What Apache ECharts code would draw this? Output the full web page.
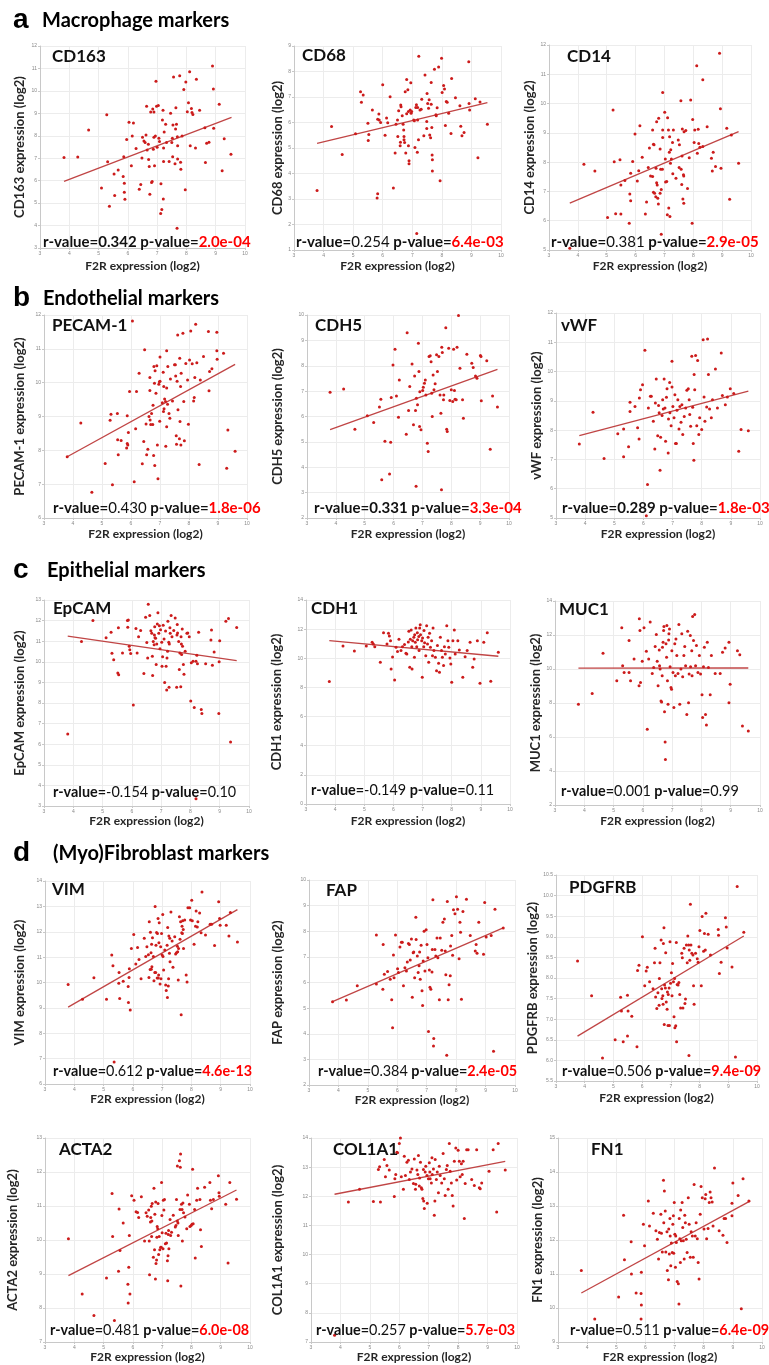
<!DOCTYPE html>
<html><head><meta charset="utf-8">
<script src="https://cdn.jsdelivr.net/npm/echarts@6/dist/echarts.min.js"></script>
<style>html,body{margin:0;padding:0;background:#fff}#c{width:769px;height:1365px}</style>
</head><body><div id="c"></div>
<script>
// ---------- data (F2R expression x, marker expression y) ----------
const F2R_RANGE = [3, 10];
const SECTIONS = [['a','Macrophage markers'],['b','Endothelial markers'],['c','Epithelial markers'],['d','(Myo)Fibroblast markers']];
const GENES = ['CD163','CD68','CD14','PECAM-1','CDH5','vWF','EpCAM','CDH1','MUC1','VIM','FAP','PDGFRB','ACTA2','COL1A1','FN1'];
const R_VALUES = ['0.342','0.254','0.381','0.430','0.331','0.289','-0.154','-0.149','0.001','0.612','0.384','0.506','0.481','0.257','0.511'];
const P_VALUES = ['2.0e-04','6.4e-03','2.9e-05','1.8e-06','3.3e-04','1.8e-03','0.10','0.11','0.99','4.6e-13','2.4e-05','9.4e-09','6.0e-08','5.7e-03','6.4e-09'];
const Y_MIN = [3,1,5,6,2,5,3,0,2,6,2,5.5,7,7,9];
const Y_MAX = [12,9,12,12,10,12,13,14,14,14,10,10.5,13,14,15];
const Y_STEP = [1,1,1,1,1,1,1,2,2,1,1,0.5,1,1,1];

const CD163 = [[3.82,7.03],[4.29,7.06],[4.66,8.26],[5.10,5.67],[5.28,8.94],[5.31,6.84],[5.37,4.86],[5.53,6.30],[5.55,5.34],[5.67,6.47],[5.84,6.19],[5.86,7.07],[5.88,5.88],[5.88,5.48],[5.90,5.17],[5.96,7.83],[6.04,8.60],[6.12,6.67],[6.15,7.99],[6.19,8.57],[6.28,7.43],[6.39,5.62],[6.44,5.83],[6.48,7.01],[6.50,7.93],[6.55,7.77],[6.59,7.70],[6.62,8.04],[6.64,9.32],[6.66,7.37],[6.70,7.62],[6.71,6.94],[6.73,6.63],[6.75,5.40],[6.78,9.06],[6.81,5.92],[6.83,5.96],[6.85,9.19],[6.87,7.40],[6.89,7.93],[6.89,9.06],[6.91,6.66],[6.94,7.99],[6.96,10.43],[6.98,9.32],[7.00,7.49],[7.04,9.35],[7.06,7.89],[7.08,7.74],[7.12,4.54],[7.13,5.86],[7.16,4.72],[7.18,8.70],[7.20,9.14],[7.21,5.18],[7.22,7.46],[7.22,6.85],[7.24,8.17],[7.29,8.51],[7.32,7.70],[7.41,6.85],[7.46,9.00],[7.50,7.70],[7.52,7.89],[7.53,7.07],[7.54,8.48],[7.56,10.62],[7.61,6.75],[7.63,8.30],[7.64,9.25],[7.66,8.51],[7.68,3.88],[7.69,7.96],[7.70,7.56],[7.70,6.96],[7.77,10.67],[7.80,6.82],[7.81,6.51],[7.85,7.99],[7.91,10.06],[7.96,5.59],[7.98,10.40],[8.03,9.07],[8.07,9.47],[8.11,10.85],[8.13,7.56],[8.17,9.22],[8.19,9.04],[8.22,8.95],[8.31,7.46],[8.34,10.52],[8.45,9.14],[8.63,8.36],[8.65,6.81],[8.69,7.67],[8.77,7.71],[8.89,11.11],[8.92,10.08],[8.93,8.33],[9.12,9.40],[9.22,6.44],[9.29,7.87],[9.52,7.18]];
const CD68 = [[3.78,3.33],[4.27,5.84],[4.63,4.75],[5.08,5.56],[5.25,7.21],[5.28,6.79],[5.34,7.08],[5.51,5.29],[5.53,5.53],[5.50,5.97],[5.65,6.49],[5.81,3.04],[5.83,3.21],[5.83,6.13],[5.87,6.33],[5.88,6.10],[5.93,6.00],[6.00,7.48],[6.08,5.50],[6.13,6.18],[6.17,5.99],[6.25,7.01],[6.36,3.43],[6.42,4.80],[6.45,5.93],[6.50,6.10],[6.51,5.45],[6.54,6.46],[6.59,5.09],[6.60,5.23],[6.61,6.69],[6.62,6.62],[6.66,6.26],[6.69,5.93],[6.71,5.71],[6.72,5.45],[6.72,5.32],[6.74,5.22],[6.76,7.21],[6.78,4.80],[6.81,7.69],[6.81,6.34],[6.85,7.28],[6.87,6.43],[6.87,5.09],[6.89,4.50],[6.89,4.38],[6.93,6.49],[6.95,7.56],[6.96,6.36],[6.98,6.43],[7.05,6.10],[7.07,6.07],[7.09,5.02],[7.12,6.59],[7.14,6.70],[7.15,1.65],[7.17,4.83],[7.18,6.10],[7.18,6.59],[7.21,5.32],[7.22,8.60],[7.26,6.49],[7.30,6.52],[7.32,6.91],[7.39,5.48],[7.43,7.86],[7.49,6.04],[7.49,5.76],[7.50,7.14],[7.52,6.75],[7.55,6.56],[7.57,6.89],[7.59,5.51],[7.62,5.40],[7.64,7.57],[7.64,6.72],[7.66,5.80],[7.67,4.73],[7.68,4.54],[7.68,4.10],[7.75,8.09],[7.80,6.30],[7.81,6.26],[7.84,6.58],[7.89,8.18],[7.94,3.72],[7.99,8.52],[8.01,7.18],[8.06,7.45],[8.09,7.31],[8.12,5.88],[8.15,6.82],[8.18,6.79],[8.23,6.36],[8.31,5.57],[8.33,7.73],[8.46,6.97],[8.61,6.66],[8.64,5.85],[8.68,5.48],[8.75,5.61],[8.91,8.38],[8.92,6.75],[8.94,6.49],[9.13,6.93],[9.22,4.62],[9.29,6.80],[9.54,5.93]];
const CD14 = [[3.72,5.06],[4.21,7.93],[4.59,7.70],[5.03,6.11],[5.22,9.78],[5.26,8.01],[5.31,6.24],[5.46,8.08],[5.49,7.22],[5.49,6.23],[5.63,7.37],[5.78,5.91],[5.80,6.91],[5.83,6.68],[5.83,7.62],[5.90,8.02],[5.98,8.96],[6.06,7.36],[6.11,7.71],[6.15,9.24],[6.23,8.17],[6.34,6.23],[6.38,6.64],[6.44,7.82],[6.48,8.48],[6.52,7.53],[6.59,7.51],[6.59,9.10],[6.62,8.61],[6.62,6.97],[6.64,8.59],[6.66,6.94],[6.70,6.82],[6.71,7.79],[6.73,9.38],[6.73,7.30],[6.75,7.22],[6.77,6.77],[6.79,6.57],[6.80,9.50],[6.85,8.45],[6.85,6.94],[6.87,7.76],[6.89,7.07],[6.89,5.54],[6.93,7.76],[6.94,10.38],[6.94,8.84],[6.94,9.10],[7.01,9.70],[7.03,8.11],[7.04,7.32],[7.08,7.34],[7.10,6.20],[7.11,9.52],[7.14,9.10],[7.15,6.43],[7.17,8.34],[7.18,8.87],[7.19,6.14],[7.21,7.96],[7.22,8.42],[7.24,8.11],[7.28,8.67],[7.29,7.60],[7.31,9.10],[7.40,7.45],[7.48,8.76],[7.51,7.82],[7.52,8.59],[7.57,10.10],[7.58,7.76],[7.60,7.24],[7.61,8.21],[7.62,9.13],[7.64,6.74],[7.66,7.57],[7.67,7.53],[7.67,6.60],[7.68,9.04],[7.74,9.08],[7.80,7.10],[7.86,8.15],[7.91,10.12],[7.96,5.91],[7.98,9.46],[8.03,8.67],[8.05,9.10],[8.12,11.29],[8.14,8.30],[8.17,9.12],[8.19,8.64],[8.23,8.51],[8.33,10.81],[8.33,8.53],[8.48,9.21],[8.63,8.13],[8.66,7.70],[8.69,8.34],[8.77,7.85],[8.91,11.72],[8.94,9.82],[8.96,7.79],[9.16,9.16],[9.26,6.73],[9.32,8.93],[9.57,7.96]];
const PECAM1 = [[3.80,7.81],[4.27,8.81],[4.65,6.76],[5.11,7.61],[5.28,8.89],[5.31,9.07],[5.36,6.98],[5.53,9.09],[5.54,8.31],[5.56,7.87],[5.66,8.29],[5.85,8.07],[5.87,8.20],[5.87,9.02],[5.91,8.53],[5.89,8.16],[5.95,9.74],[6.05,11.82],[6.11,7.07],[6.16,8.64],[6.19,9.74],[6.28,10.28],[6.39,7.60],[6.44,8.26],[6.47,10.97],[6.52,8.78],[6.54,7.87],[6.58,8.03],[6.62,9.00],[6.65,10.15],[6.65,9.77],[6.66,8.90],[6.68,8.76],[6.71,9.09],[6.75,8.76],[6.76,9.33],[6.79,10.48],[6.78,7.85],[6.81,9.98],[6.82,7.55],[6.83,10.35],[6.86,9.69],[6.89,10.50],[6.91,8.16],[6.93,7.16],[6.96,9.95],[6.98,10.03],[6.99,8.86],[7.00,10.76],[7.00,10.04],[7.08,9.41],[7.11,10.31],[7.12,9.15],[7.13,9.89],[7.14,9.23],[7.16,9.52],[7.19,9.44],[7.20,8.12],[7.23,9.84],[7.23,10.94],[7.23,8.70],[7.26,9.36],[7.27,10.48],[7.31,9.09],[7.34,8.95],[7.36,10.11],[7.43,9.46],[7.50,10.53],[7.53,10.53],[7.54,10.20],[7.56,8.43],[7.57,8.18],[7.59,10.04],[7.61,11.41],[7.62,9.20],[7.67,8.34],[7.68,10.72],[7.69,8.85],[7.71,9.89],[7.72,8.16],[7.73,10.28],[7.79,11.46],[7.82,9.44],[7.84,8.28],[7.89,10.57],[7.95,10.08],[7.98,8.77],[8.02,10.67],[8.06,11.53],[8.11,10.56],[8.16,9.46],[8.18,9.56],[8.20,10.15],[8.23,11.73],[8.27,10.59],[8.35,7.58],[8.39,10.08],[8.50,10.77],[8.67,11.51],[8.69,9.76],[8.71,10.33],[8.79,10.41],[8.96,11.49],[8.96,10.94],[8.97,10.69],[9.19,10.87],[9.30,7.47],[9.34,8.60],[9.59,7.97]];
const CDH5 = [[3.80,6.96],[4.27,7.08],[4.66,5.50],[5.09,6.03],[5.31,5.76],[5.51,6.37],[5.56,6.68],[5.59,3.51],[5.70,5.02],[5.86,3.73],[5.90,4.99],[5.92,6.75],[5.98,8.03],[6.05,8.65],[6.10,6.81],[6.17,5.97],[6.20,7.44],[6.44,5.30],[6.47,9.30],[6.52,6.24],[6.56,7.18],[6.64,8.07],[6.69,5.67],[6.73,7.60],[6.76,6.24],[6.78,3.25],[6.79,6.72],[6.83,6.46],[6.86,8.89],[6.88,7.77],[6.90,5.61],[6.91,6.98],[6.95,5.48],[7.01,7.02],[7.03,7.15],[7.07,7.31],[7.10,7.44],[7.12,6.85],[7.17,4.95],[7.20,4.62],[7.23,8.36],[7.27,8.39],[7.30,8.16],[7.32,6.92],[7.34,6.00],[7.37,7.64],[7.40,7.05],[7.44,7.29],[7.49,8.43],[7.52,7.77],[7.57,8.36],[7.61,6.85],[7.64,6.13],[7.66,3.11],[7.67,8.73],[7.69,8.52],[7.73,6.66],[7.74,6.85],[7.81,9.50],[7.84,5.50],[7.86,5.41],[7.91,8.69],[7.95,6.63],[8.00,7.05],[8.05,6.59],[8.08,8.65],[8.11,7.02],[8.13,6.68],[8.17,6.66],[8.20,8.73],[8.25,9.98],[8.30,7.90],[8.39,6.66],[8.42,5.93],[8.54,8.45],[8.71,8.10],[8.76,7.93],[8.84,7.60],[8.89,7.51],[9.01,8.40],[9.03,8.36],[9.04,6.62],[9.23,8.20],[9.35,4.71],[9.43,6.81],[9.60,6.37]];
const VWF = [[3.80,7.53],[4.27,8.61],[4.65,7.03],[5.12,7.88],[5.32,7.09],[5.32,8.04],[5.49,7.43],[5.54,8.95],[5.54,8.64],[5.71,8.81],[5.80,8.08],[5.85,7.70],[5.86,9.10],[5.90,9.38],[5.97,9.55],[6.05,10.73],[6.14,6.14],[6.17,8.76],[6.24,9.16],[6.27,9.16],[6.34,8.30],[6.39,7.36],[6.41,8.93],[6.44,9.75],[6.49,7.81],[6.52,8.84],[6.54,8.59],[6.57,6.63],[6.59,7.76],[6.64,8.50],[6.66,9.04],[6.68,8.72],[6.71,9.75],[6.74,8.76],[6.76,7.62],[6.79,9.12],[6.81,9.41],[6.85,7.22],[6.86,8.38],[6.90,9.63],[6.91,8.59],[6.95,8.15],[6.98,10.35],[6.98,9.47],[7.01,8.81],[7.05,8.42],[7.08,9.21],[7.10,7.54],[7.13,7.54],[7.15,8.68],[7.18,9.04],[7.22,8.04],[7.25,8.81],[7.29,8.27],[7.32,8.87],[7.35,7.85],[7.40,8.47],[7.45,8.76],[7.49,9.36],[7.54,9.41],[7.57,9.04],[7.59,8.53],[7.62,8.13],[7.66,10.52],[7.69,8.78],[7.71,7.54],[7.73,6.97],[7.74,9.90],[7.76,9.38],[7.79,10.55],[7.83,8.15],[7.86,10.38],[7.90,7.85],[7.93,8.42],[8.00,8.02],[8.05,11.09],[8.08,9.13],[8.11,8.30],[8.17,8.79],[8.20,11.11],[8.23,9.90],[8.27,8.72],[8.33,8.42],[8.37,9.04],[8.47,10.09],[8.54,8.76],[8.67,10.63],[8.71,9.18],[8.81,8.87],[8.88,9.13],[8.98,9.41],[9.10,9.25],[9.27,7.28],[9.35,8.02],[9.60,7.98],[6.10,5.08]];
const EPCAM = [[3.81,6.50],[4.28,10.98],[4.67,12.00],[5.12,11.17],[5.29,11.43],[5.32,10.41],[5.38,10.10],[5.52,9.46],[5.55,9.37],[5.54,11.65],[5.68,10.43],[5.85,12.00],[5.88,12.03],[5.86,11.68],[5.91,10.75],[5.93,10.59],[5.96,10.40],[6.05,7.90],[6.14,11.62],[6.18,10.43],[6.23,11.21],[6.30,11.52],[6.41,9.43],[6.47,12.16],[6.51,10.94],[6.54,10.19],[6.56,12.79],[6.61,12.25],[6.65,11.51],[6.68,11.38],[6.70,10.27],[6.71,9.33],[6.73,10.98],[6.76,10.83],[6.77,11.30],[6.78,11.70],[6.79,11.17],[6.81,11.14],[6.83,9.87],[6.85,10.86],[6.87,11.83],[6.89,12.38],[6.92,11.38],[6.94,11.75],[6.96,10.63],[6.98,11.56],[7.02,10.95],[7.03,9.78],[7.05,10.25],[7.07,11.78],[7.10,11.11],[7.12,9.00],[7.15,11.49],[7.17,9.79],[7.19,8.63],[7.20,10.19],[7.22,10.51],[7.23,11.97],[7.26,10.95],[7.27,8.76],[7.28,10.86],[7.30,11.65],[7.31,11.38],[7.34,12.25],[7.37,11.22],[7.43,11.52],[7.48,12.13],[7.53,8.76],[7.54,11.30],[7.55,11.81],[7.56,11.40],[7.60,10.98],[7.62,9.63],[7.64,10.43],[7.67,8.79],[7.68,11.22],[7.69,10.86],[7.70,10.35],[7.72,11.59],[7.73,10.75],[7.76,9.87],[7.78,9.40],[7.82,10.51],[7.88,11.38],[7.91,11.40],[7.96,11.22],[8.01,8.10],[8.03,9.95],[8.09,10.03],[8.13,7.78],[8.19,10.03],[8.22,10.32],[8.24,9.90],[8.28,11.43],[8.37,7.68],[8.39,7.49],[8.52,9.90],[8.70,11.06],[8.72,11.54],[8.75,9.83],[8.81,10.48],[8.97,7.49],[8.98,10.00],[9.00,11.02],[9.21,11.97],[9.30,12.10],[9.37,6.11],[9.58,11.67],[8.19,3.35]];
const CDH1 = [[3.80,8.40],[4.27,10.85],[4.66,10.50],[5.07,10.85],[5.27,11.10],[5.31,10.98],[5.36,10.80],[5.55,9.73],[5.66,11.76],[5.78,10.98],[5.83,11.71],[5.86,11.53],[5.90,11.21],[5.92,9.27],[5.97,10.09],[6.04,8.51],[6.09,10.75],[6.14,10.46],[6.19,11.30],[6.26,10.53],[6.31,10.80],[6.38,10.94],[6.43,10.34],[6.46,10.30],[6.51,11.12],[6.53,11.85],[6.56,9.38],[6.58,11.30],[6.61,11.94],[6.63,10.80],[6.64,9.27],[6.66,11.21],[6.70,11.44],[6.72,10.07],[6.73,11.62],[6.75,11.10],[6.77,12.08],[6.80,10.80],[6.82,11.76],[6.83,11.28],[6.87,11.49],[6.88,10.53],[6.90,12.08],[6.92,12.31],[6.93,11.62],[6.97,11.21],[6.99,8.70],[7.00,11.39],[7.04,10.80],[7.05,11.90],[7.07,11.07],[7.11,10.18],[7.14,12.24],[7.17,10.98],[7.19,11.44],[7.21,9.73],[7.24,11.71],[7.27,10.75],[7.31,11.21],[7.34,10.18],[7.36,12.08],[7.39,10.53],[7.44,10.07],[7.48,9.15],[7.51,10.87],[7.55,9.66],[7.58,9.04],[7.61,11.44],[7.65,10.53],[7.68,10.07],[7.72,9.50],[7.75,10.80],[7.78,10.30],[7.83,12.24],[7.87,11.21],[7.90,10.75],[7.94,10.02],[7.97,9.61],[8.00,8.35],[8.04,11.21],[8.09,11.94],[8.12,10.30],[8.21,11.21],[8.26,10.57],[8.38,8.70],[8.46,10.11],[8.53,10.53],[8.63,11.10],[8.72,9.38],[8.77,9.95],[8.88,11.21],[8.97,8.29],[9.10,11.10],[9.22,11.76],[9.34,8.42],[9.60,10.41]];
const MUC1 = [[3.80,7.93],[4.27,8.56],[4.64,10.92],[5.11,9.31],[5.28,12.42],[5.31,10.19],[5.36,9.80],[5.53,9.80],[5.53,11.67],[5.58,9.31],[5.70,10.59],[5.87,9.01],[5.88,12.95],[5.90,12.26],[5.92,9.21],[5.98,10.45],[6.04,12.42],[6.12,11.04],[6.15,6.45],[6.20,10.59],[6.25,12.76],[6.32,9.74],[6.37,10.09],[6.42,11.32],[6.46,12.03],[6.49,10.45],[6.52,9.01],[6.56,11.12],[6.57,10.19],[6.59,10.00],[6.62,8.12],[6.64,8.06],[6.66,9.60],[6.67,11.28],[6.69,11.57],[6.71,12.26],[6.72,12.50],[6.74,7.49],[6.76,5.70],[6.77,4.67],[6.79,11.48],[6.81,10.69],[6.82,12.56],[6.84,9.31],[6.86,7.93],[6.88,11.71],[6.89,12.07],[6.91,12.36],[6.93,10.13],[6.96,8.91],[6.98,8.81],[6.99,11.08],[7.03,9.80],[7.06,7.73],[7.09,11.48],[7.11,9.60],[7.13,11.77],[7.16,10.79],[7.20,9.74],[7.23,12.62],[7.26,7.93],[7.30,10.00],[7.33,12.07],[7.36,9.54],[7.40,10.79],[7.43,11.32],[7.46,10.19],[7.50,7.33],[7.53,12.22],[7.56,8.02],[7.58,9.70],[7.62,11.97],[7.63,10.13],[7.67,11.08],[7.68,9.60],[7.70,13.09],[7.73,11.67],[7.77,13.21],[7.80,10.19],[7.83,11.38],[7.88,9.80],[7.93,10.79],[7.97,9.70],[8.02,8.48],[8.04,7.14],[8.07,10.13],[8.10,11.28],[8.14,7.33],[8.17,6.70],[8.20,11.57],[8.24,10.09],[8.30,8.48],[8.34,10.79],[8.47,9.74],[8.64,9.74],[8.72,10.98],[8.81,11.24],[8.94,11.57],[8.94,8.02],[8.98,9.11],[9.23,11.08],[9.31,10.84],[9.40,6.64],[9.60,6.35]];
const VIM = [[3.79,9.92],[4.28,9.34],[4.67,10.19],[5.10,9.34],[5.28,11.08],[5.32,10.66],[5.36,6.87],[5.52,9.97],[5.53,10.39],[5.55,9.37],[5.67,10.05],[5.84,9.84],[5.85,9.21],[5.87,10.20],[5.88,10.54],[5.91,8.92],[5.95,11.34],[6.03,11.89],[6.10,10.73],[6.16,11.38],[6.21,10.91],[6.28,10.15],[6.39,11.74],[6.44,11.02],[6.48,11.41],[6.53,11.09],[6.55,10.20],[6.56,12.39],[6.59,10.51],[6.60,11.98],[6.62,11.17],[6.63,10.52],[6.64,11.51],[6.65,10.62],[6.67,11.76],[6.70,11.02],[6.72,10.07],[6.75,10.39],[6.76,13.00],[6.78,10.39],[6.79,11.47],[6.81,11.97],[6.83,10.18],[6.84,11.93],[6.86,12.52],[6.87,10.18],[6.88,10.30],[6.89,11.57],[6.90,12.35],[6.93,9.94],[6.95,11.41],[6.96,10.15],[6.98,11.93],[7.00,11.08],[7.02,12.68],[7.03,11.02],[7.05,10.49],[7.09,11.28],[7.12,9.90],[7.14,9.68],[7.17,11.47],[7.18,9.41],[7.19,12.17],[7.21,9.86],[7.22,10.15],[7.23,11.83],[7.25,11.15],[7.26,11.74],[7.27,10.82],[7.30,12.78],[7.34,11.64],[7.37,10.60],[7.43,11.80],[7.46,11.12],[7.49,11.17],[7.52,11.43],[7.53,11.21],[7.55,10.10],[7.56,11.34],[7.59,12.59],[7.61,11.70],[7.63,12.39],[7.65,8.73],[7.67,11.96],[7.68,12.22],[7.69,11.93],[7.70,12.43],[7.72,12.09],[7.73,11.34],[7.77,12.46],[7.82,10.30],[7.85,10.02],[7.88,12.95],[7.94,12.95],[7.97,12.46],[8.01,13.24],[8.03,12.43],[8.09,11.51],[8.14,12.22],[8.16,12.82],[8.20,12.19],[8.22,12.39],[8.28,12.74],[8.33,11.96],[8.36,13.57],[8.48,11.87],[8.64,12.30],[8.69,12.30],[8.79,11.46],[8.93,13.18],[8.96,12.52],[8.98,12.26],[9.19,12.26],[9.28,11.83],[9.33,12.76],[9.57,11.60]];
const FAP = [[3.80,5.25],[4.27,5.32],[4.64,5.87],[5.29,5.94],[5.29,7.85],[5.51,5.74],[5.52,7.48],[5.56,6.32],[5.67,6.43],[5.76,6.13],[5.81,5.33],[5.84,4.23],[5.87,7.07],[5.89,6.19],[5.94,7.85],[6.01,6.54],[6.04,6.39],[6.09,7.39],[6.14,7.57],[6.17,7.57],[6.21,5.87],[6.26,6.58],[6.31,6.45],[6.34,6.80],[6.38,7.52],[6.41,7.48],[6.44,6.88],[6.48,7.70],[6.51,5.42],[6.54,7.16],[6.56,7.19],[6.59,6.19],[6.63,8.55],[6.64,7.68],[6.68,7.03],[6.71,6.39],[6.74,6.65],[6.76,7.19],[6.78,6.13],[6.81,7.45],[6.84,5.68],[6.86,5.10],[6.88,6.84],[6.91,8.00],[6.94,6.45],[6.98,8.06],[7.01,7.48],[7.04,6.97],[7.06,4.09],[7.09,6.49],[7.11,5.81],[7.14,5.74],[7.18,6.41],[7.19,7.29],[7.21,9.23],[7.23,3.52],[7.24,3.81],[7.28,7.29],[7.31,7.03],[7.35,7.74],[7.38,6.97],[7.43,5.33],[7.46,7.74],[7.51,7.26],[7.55,8.35],[7.60,8.48],[7.63,7.23],[7.65,6.30],[7.68,3.16],[7.70,9.16],[7.73,5.33],[7.76,5.91],[7.80,6.26],[7.81,7.42],[7.85,7.83],[7.88,7.06],[7.91,8.84],[7.96,8.68],[8.01,9.35],[8.05,8.86],[8.10,6.93],[8.13,8.35],[8.15,7.96],[8.18,5.35],[8.23,8.77],[8.35,9.25],[8.48,7.83],[8.65,7.23],[8.68,7.48],[8.71,7.14],[8.77,8.35],[8.93,7.10],[8.97,9.12],[9.02,7.78],[9.19,7.83],[9.27,3.32],[9.32,8.86],[9.60,8.13]];
const PDGFRB = [[3.75,8.41],[4.24,7.57],[4.62,6.06],[5.06,6.50],[5.25,7.53],[5.28,7.20],[5.34,6.45],[5.49,7.58],[5.51,7.20],[5.49,6.59],[5.64,7.07],[5.82,6.33],[5.84,8.18],[5.89,8.31],[6.01,9.00],[6.09,7.81],[6.14,8.17],[6.18,8.26],[6.26,7.91],[6.38,7.74],[6.43,8.37],[6.45,8.72],[6.47,7.54],[6.51,7.26],[6.55,7.64],[6.59,7.34],[6.60,7.99],[6.62,8.37],[6.66,8.92],[6.68,7.74],[6.69,7.50],[6.72,7.57],[6.73,7.36],[6.74,8.84],[6.76,9.22],[6.77,6.87],[6.78,7.83],[6.81,7.76],[6.82,8.61],[6.84,7.42],[6.87,7.24],[6.88,7.66],[6.90,6.85],[6.91,7.60],[6.94,7.76],[6.95,6.85],[6.97,8.88],[6.99,7.87],[7.02,8.13],[7.04,7.57],[7.06,8.35],[7.09,7.91],[7.11,7.06],[7.13,7.99],[7.14,6.79],[7.17,6.84],[7.19,8.86],[7.20,6.45],[7.22,7.84],[7.25,7.83],[7.28,7.89],[7.31,7.60],[7.34,7.27],[7.38,8.60],[7.40,8.49],[7.42,7.27],[7.46,8.72],[7.49,7.38],[7.51,7.49],[7.54,8.80],[7.57,8.37],[7.59,9.02],[7.62,8.80],[7.63,6.12],[7.64,8.68],[7.66,8.43],[7.68,9.79],[7.70,8.80],[7.73,8.60],[7.77,8.56],[7.79,7.81],[7.81,7.36],[7.86,8.60],[7.92,8.47],[7.95,8.38],[7.98,8.76],[8.01,9.15],[8.06,7.81],[8.09,9.49],[8.14,8.65],[8.17,9.08],[8.20,8.68],[8.22,9.57],[8.30,9.06],[8.38,8.56],[8.65,9.18],[8.66,9.04],[8.69,8.11],[8.75,8.38],[8.90,9.46],[8.93,9.24],[8.96,8.73],[9.13,8.27],[9.25,6.08],[9.31,10.22],[9.54,9.11]];
const ACTA2 = [[3.80,10.04],[4.27,8.41],[4.67,7.78],[5.10,8.88],[5.29,11.37],[5.31,10.10],[5.37,7.63],[5.51,9.08],[5.53,10.91],[5.56,9.69],[5.67,10.50],[5.83,8.70],[5.84,8.15],[5.86,9.20],[5.88,10.13],[5.90,8.41],[5.96,11.30],[6.04,11.17],[6.11,10.83],[6.16,10.81],[6.20,10.66],[6.29,11.27],[6.40,9.97],[6.45,10.80],[6.49,10.70],[6.54,10.88],[6.56,9.97],[6.57,8.98],[6.60,10.53],[6.61,10.66],[6.63,10.99],[6.64,10.10],[6.65,10.56],[6.66,11.07],[6.70,9.49],[6.72,11.52],[6.74,9.71],[6.75,10.76],[6.77,8.85],[6.78,11.12],[6.79,9.31],[6.81,9.41],[6.82,10.08],[6.83,10.40],[6.85,10.33],[6.86,11.07],[6.88,9.57],[6.90,10.10],[6.92,9.71],[6.95,9.79],[6.97,9.79],[6.98,11.69],[6.99,10.72],[7.00,10.21],[7.03,9.74],[7.04,11.17],[7.06,10.88],[7.08,11.19],[7.11,9.89],[7.13,10.20],[7.15,9.91],[7.18,9.39],[7.19,8.80],[7.20,9.54],[7.21,10.16],[7.22,10.28],[7.23,9.74],[7.27,10.60],[7.29,10.13],[7.32,10.23],[7.38,10.73],[7.45,10.38],[7.47,10.43],[7.49,11.19],[7.52,10.56],[7.52,12.18],[7.54,10.50],[7.55,10.13],[7.59,12.33],[7.61,10.90],[7.62,12.14],[7.63,12.53],[7.64,8.65],[7.66,11.05],[7.68,10.90],[7.69,9.97],[7.71,11.09],[7.73,10.80],[7.78,10.68],[7.84,10.33],[7.87,11.32],[7.93,11.05],[7.95,10.40],[7.99,10.43],[8.02,10.46],[8.04,12.08],[8.06,10.48],[8.11,10.90],[8.13,9.47],[8.18,11.17],[8.21,11.52],[8.29,11.19],[8.31,10.30],[8.34,9.81],[8.45,11.55],[8.63,11.69],[8.65,11.17],[8.69,10.92],[8.75,11.19],[8.92,11.89],[8.94,11.39],[8.95,11.29],[9.17,11.05],[9.25,9.32],[9.31,11.69],[9.54,11.20]];
const COL1A1 = [[3.80,7.23],[4.27,11.80],[4.65,12.24],[5.12,11.82],[5.29,12.92],[5.33,13.01],[5.36,11.80],[5.49,13.26],[5.53,12.67],[5.58,13.06],[5.66,12.90],[5.83,11.99],[5.85,12.60],[5.88,12.75],[5.92,13.51],[5.94,13.49],[6.00,13.81],[6.04,14.00],[6.07,12.67],[6.14,12.24],[6.17,13.37],[6.21,12.71],[6.26,13.17],[6.31,13.24],[6.34,12.58],[6.38,12.83],[6.43,12.94],[6.48,12.44],[6.51,13.28],[6.55,12.24],[6.56,12.41],[6.60,12.90],[6.63,12.75],[6.65,13.40],[6.68,12.35],[6.69,12.63],[6.72,13.17],[6.75,12.29],[6.77,12.24],[6.80,11.92],[6.82,12.92],[6.83,11.84],[6.85,11.58],[6.88,12.83],[6.90,13.03],[6.94,12.71],[6.95,11.76],[6.99,12.60],[7.02,13.15],[7.04,12.83],[7.05,12.60],[7.09,12.46],[7.11,13.32],[7.12,12.75],[7.16,12.94],[7.19,11.35],[7.21,11.84],[7.22,13.26],[7.26,12.58],[7.29,12.83],[7.33,12.12],[7.36,13.03],[7.39,12.71],[7.44,12.46],[7.49,13.47],[7.53,12.60],[7.56,12.03],[7.60,12.92],[7.63,13.06],[7.66,12.24],[7.70,13.81],[7.73,12.86],[7.77,12.46],[7.80,12.03],[7.83,11.67],[7.87,13.20],[7.92,13.66],[7.95,12.56],[8.00,13.58],[8.04,13.20],[8.07,12.67],[8.11,13.12],[8.14,12.75],[8.17,13.20],[8.21,11.24],[8.24,12.44],[8.29,13.60],[8.34,13.60],[8.46,12.58],[8.55,12.37],[8.63,13.60],[8.72,12.29],[8.75,12.26],[8.80,12.46],[9.05,12.86],[9.19,13.60],[9.31,11.46],[9.36,13.81],[9.60,12.90]];
const FN1 = [[3.80,11.10],[4.26,9.68],[5.08,10.32],[5.25,12.73],[5.28,11.42],[5.51,11.95],[5.52,11.00],[5.68,10.44],[5.85,10.43],[5.86,10.09],[5.85,9.68],[5.86,11.05],[5.93,12.46],[5.97,11.83],[6.10,13.15],[6.14,12.41],[6.27,12.79],[6.36,12.27],[6.41,12.02],[6.45,11.44],[6.48,12.22],[6.53,12.76],[6.55,12.20],[6.58,11.65],[6.62,13.76],[6.63,12.51],[6.65,13.44],[6.68,12.85],[6.70,11.65],[6.74,12.24],[6.75,11.10],[6.79,10.83],[6.80,12.32],[6.82,11.59],[6.84,12.63],[6.85,12.12],[6.87,11.24],[6.89,11.91],[6.92,11.63],[6.94,12.46],[6.96,12.71],[6.97,11.61],[6.99,13.10],[7.01,12.17],[7.03,11.20],[7.04,12.12],[7.06,11.93],[7.09,10.78],[7.13,10.71],[7.15,10.12],[7.16,12.63],[7.18,12.04],[7.20,11.34],[7.21,12.88],[7.23,11.98],[7.26,13.10],[7.28,12.37],[7.30,11.98],[7.33,11.44],[7.35,12.73],[7.37,12.51],[7.40,12.02],[7.43,11.63],[7.47,13.24],[7.50,12.46],[7.54,11.49],[7.57,12.24],[7.61,12.12],[7.64,11.49],[7.67,13.63],[7.71,12.12],[7.74,12.51],[7.78,12.04],[7.81,11.34],[7.84,10.85],[7.88,12.76],[7.91,13.57],[7.95,13.24],[8.01,12.32],[8.05,13.21],[8.07,13.34],[8.10,12.04],[8.15,12.34],[8.19,13.10],[8.22,13.41],[8.25,13.24],[8.29,13.12],[8.32,12.41],[8.37,14.12],[8.53,12.27],[8.66,12.14],[8.70,12.63],[8.75,12.63],[8.80,11.93],[8.97,12.71],[8.97,13.08],[9.00,13.68],[9.18,13.31],[9.29,9.98],[9.35,13.80],[9.55,13.15]];

// regression lines (end points)
const FITS = [
  [[3.82,5.97],[9.54,8.82]], [[3.78,5.18],[9.54,6.78]], [[3.72,6.60],[9.57,9.04]],
  [[3.80,7.81],[9.59,10.54]], [[3.80,5.48],[9.60,7.86]], [[3.80,7.81],[9.60,9.33]],
  [[3.81,11.25],[9.58,10.06]], [[3.80,11.21],[9.60,10.14]], [[3.80,10.05],[9.60,10.06]],
  [[3.79,9.03],[9.57,12.87]], [[3.80,5.25],[9.60,8.13]], [[3.75,6.59],[9.54,9.02]],
  [[3.80,8.95],[9.54,11.47]], [[3.80,12.07],[9.60,13.20]], [[3.80,10.44],[9.60,13.15]]
];
const DATA = [CD163,CD68,CD14,PECAM1,CDH5,VWF,EPCAM,CDH1,MUC1,VIM,FAP,PDGFRB,ACTA2,COL1A1,FN1];

// ---------- layout (pixels) ----------
const LAYOUT = [
 {l:40,t:46,w:205,h:202,tdx:12,tdy:11,ycx:20,rdx:3,rdy:-6,xg:13},
 {l:294,t:46,w:207,h:204,tdx:8,tdy:10,ycx:283,rdx:2,rdy:-8,xg:11},
 {l:549,t:45,w:202,h:205,tdx:18,tdy:12,ycx:538,rdx:2,rdy:-8,xg:11},
 {l:44,t:315,w:203,h:203,tdx:8,tdy:11,ycx:20,rdx:9,rdy:-10,xg:11},
 {l:307,t:315,w:202,h:203,tdx:8,tdy:11,ycx:278,rdx:7,rdy:-10,xg:11},
 {l:556,t:313,w:204,h:205,tdx:5,tdy:13,ycx:537,rdx:6,rdy:-10,xg:11},
 {l:44,t:600,w:205,h:206,tdx:9,tdy:9,ycx:20,rdx:9,rdy:-14,xg:10},
 {l:306,t:600,w:204,h:204,tdx:5,tdy:9,ycx:277,rdx:5,rdy:-14,xg:12},
 {l:555,t:601,w:205,h:204,tdx:4,tdy:9,ycx:536,rdx:6,rdy:-14,xg:11},
 {l:45,t:881,w:205,h:203,tdx:7,tdy:9,ycx:20,rdx:8,rdy:-13,xg:10},
 {l:309,t:880,w:206,h:205,tdx:17,tdy:11,ycx:278,rdx:9,rdy:-14,xg:9},
 {l:556,t:875,w:201,h:206,tdx:13,tdy:13,ycx:536,rdx:6,rdy:-10,xg:12},
 {l:45,t:1138,w:205,h:204,tdx:14,tdy:12,ycx:13,rdx:5,rdy:-12,xg:10},
 {l:311,t:1138,w:206,h:204,tdx:22,tdy:12,ycx:278,rdx:5,rdy:-12,xg:10},
 {l:558,t:1138,w:204,h:204,tdx:33,tdy:12,ycx:538,rdx:12,rdy:-12,xg:10}
];
const SECTION_POS = [[13,42,20],[13,43,298],[13,47,570],[13,53,853]];
const R_BOLD = [true,false,false,false,true,true,false,false,false,false,false,false,false,false,false];

const FONT = 'Lato, "Open Sans", sans-serif';
const NAME_FS_X = 12, NAME_FS_Y = 13;
const grids=[], xAxes=[], yAxes=[], series=[], graphics=[];
GENES.forEach((g,i)=>{
  const L = LAYOUT[i];
  const RV_FS = i < 6 ? 15 : 14.4;
  grids.push({left:L.l, top:L.t, width:L.w, height:L.h, show:false});
  xAxes.push({gridIndex:i, type:'value', min:F2R_RANGE[0], max:F2R_RANGE[1], interval:1,
    name:'F2R expression (log2)', nameLocation:'middle', nameGap:L.xg-1,
    nameTextStyle:{fontSize:NAME_FS_X, fontWeight:'bold', color:'#262626', fontFamily:FONT},
    axisLine:{lineStyle:{color:'#c8c8c8', width:1}}, axisTick:{length:2, lineStyle:{color:'#c8c8c8'}},
    axisLabel:{fontSize:5, color:'#888', margin:3},
    splitLine:{show:true, lineStyle:{color:'#ececec', width:1}}});
  const ypad = L.l - L.ycx - NAME_FS_Y/2;
  yAxes.push({gridIndex:i, type:'value', min:Y_MIN[i], max:Y_MAX[i], interval:Y_STEP[i],
    name:g+' expression (log2)', nameLocation:'middle', nameGap:ypad, nameRotate:90,
    nameTextStyle:{fontSize:NAME_FS_Y, fontWeight:'bold', color:'#262626', fontFamily:FONT},
    axisLine:{show:true, lineStyle:{color:'#c8c8c8', width:1}}, axisTick:{show:true, length:2, lineStyle:{color:'#c8c8c8'}},
    axisLabel:{fontSize:5, color:'#888', margin:3, formatter: v => Y_STEP[i] < 1 ? v.toFixed(1) : String(v)},
    splitLine:{show:true, lineStyle:{color:'#ececec', width:1}}});
  series.push({type:'scatter', xAxisIndex:i, yAxisIndex:i, data:DATA[i], symbolSize:3, silent:true,
    itemStyle:{color:'#cc1b1b', opacity:1}});
  series.push({type:'line', xAxisIndex:i, yAxisIndex:i, data:FITS[i], showSymbol:false, silent:true,
    lineStyle:{color:'#c04545', width:1.3}, z:1});
  graphics.push({type:'text', x:L.l+L.tdx, y:L.t+L.tdy, silent:true, z:100,
    style:{text:g, font:'bold 17px '+FONT, fill:'#111', verticalAlign:'middle', align:'left'}});
  const sig = i<6 || i>8;
  graphics.push({type:'text', x:L.l+L.rdx, y:L.t+L.h+L.rdy, silent:true, z:100,
    style:{text:'{a|r-value=}{v|'+R_VALUES[i]+'}{a| p-value=}{p|'+P_VALUES[i]+'}', verticalAlign:'middle', align:'left',
      rich:{
        a:{fontFamily:FONT, fontSize:RV_FS, fontWeight:'bold', fill:'#111'},
        v:{fontFamily:FONT, fontSize:RV_FS, fontWeight:R_BOLD[i]?'bold':'normal', fill:'#111'},
        p:{fontFamily:FONT, fontSize:RV_FS, fontWeight:sig?'bold':'normal', fill:sig?'#ff0000':'#111'}
      }}});
});
SECTIONS.forEach((s,k)=>{
  const P = SECTION_POS[k];
  graphics.push({type:'text', x:P[0], y:P[2], z:100, style:{text:s[0], font:'bold 28px "Liberation Sans", Arial, sans-serif', fill:'#000', verticalAlign:'middle'}});
  graphics.push({type:'text', x:P[1], y:P[2]+1, z:100, style:{text:s[1], font:'bold 20px '+FONT, fill:'#000', verticalAlign:'middle'}});
});

const chart = echarts.init(document.getElementById('c'), null, {renderer:'canvas'});
chart.setOption({backgroundColor:'#fff', animation:false, grid:grids, xAxis:xAxes, yAxis:yAxes, series:series, graphic:graphics});
</script></body></html>
